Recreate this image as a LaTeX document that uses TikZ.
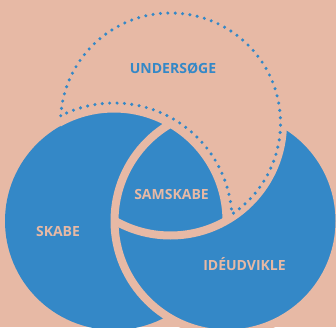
\documentclass[tikz,border=0pt]{standalone}
\usepackage{fontspec}
\newfontfamily\labelfont{Open Sans}
\usetikzlibrary{calc}
\definecolor{venblue}{RGB}{52,136,199}
\definecolor{salmon}{RGB}{231,185,165}
\tikzset{
  gapband/.style={draw=salmon, line width=8pt},
  dotline/.style={draw=venblue, line width=3.4pt, line cap=round, dash pattern=on 0pt off 7.4pt},
  lbl/.style={font=\labelfont\bfseries\fontsize{14}{14}\selectfont, anchor=base, inner sep=0pt},
}
\begin{document}
\begin{tikzpicture}[x=1pt,y=1pt]
  % circle centres
  \coordinate (cL) at (114,106);
  \coordinate (cR) at (227,106);
  \coordinate (cT) at (170.5,204);
  % background
  \fill[salmon] (0,0) rectangle (336,327);
  \useasboundingbox (0,0) rectangle (336,327);
  % right disc, covered by the upper disc, covered by the left disc
  \fill[venblue] (cR) circle[radius=109pt];
  \fill[salmon] (cT) circle[radius=110pt];
  \fill[venblue] (cL) circle[radius=109pt];
  % gaps: left edge inside the upper disc
  \begin{scope}
    \clip (cT) circle[radius=110pt];
    \draw[gapband] (cL) circle[radius=112.5pt];
  \end{scope}
  % right edge runs over the left disc
  \draw[gapband] (cR) circle[radius=112.5pt];
  % upper edge runs over the right disc
  \begin{scope}
    \clip (cR) circle[radius=109pt];
    \draw[gapband] (cT) circle[radius=112.5pt];
  \end{scope}
  % dotted outline of the upper region
  \draw[dotline] ($(cT)+(176.2:110pt)$)
    arc[start angle=176.2, end angle=-56.1, radius=110pt]
    arc[start angle=3.26, end angle=116.83, radius=118pt];
  % labels
  \node[lbl, text=venblue] (undersoege) at (173,253) {UNDERSØGE};
  \node[lbl, text=salmon] (samskabe) at (171.5,128) {SAMSKABE};
  \node[lbl, text=salmon] (skabe) at (58,91) {SKABE};
  \node[lbl, text=salmon] (ideudvikle) at (244.5,57) {IDÉUDVIKLE};
\end{tikzpicture}
\end{document}
